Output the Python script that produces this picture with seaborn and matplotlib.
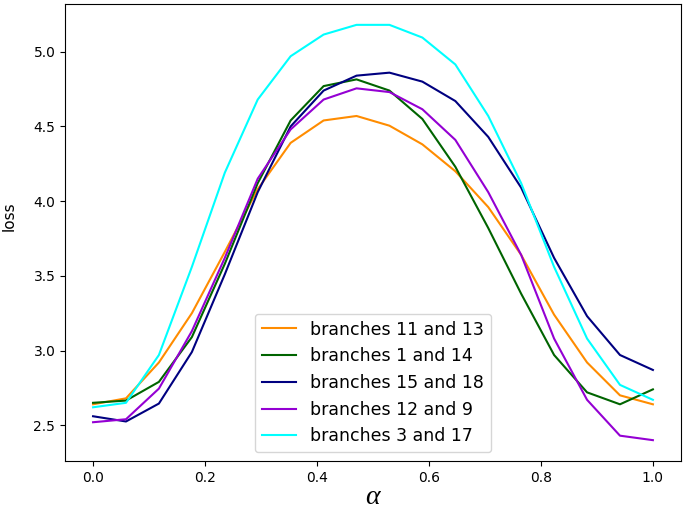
import matplotlib
matplotlib.use("Agg")
import matplotlib.pyplot as plt
import seaborn as sns
import pandas as pd

# ============================================================
# data
# ============================================================

alpha = [0.0, 0.0588, 0.1176, 0.1765, 0.2353, 0.2941, 0.3529, 0.4118, 0.4706,
         0.5294, 0.5882, 0.6471, 0.7059, 0.7647, 0.8235, 0.8824, 0.9412, 1.0]

loss_11_13 = [2.64, 2.68, 2.92, 3.25, 3.66, 4.08, 4.39, 4.54, 4.57,
              4.505, 4.38, 4.20, 3.96, 3.64, 3.24, 2.92, 2.70, 2.64]
loss_1_14 = [2.65, 2.665, 2.79, 3.09, 3.58, 4.12, 4.54, 4.77, 4.815,
             4.74, 4.55, 4.23, 3.82, 3.38, 2.97, 2.72, 2.64, 2.74]
loss_15_18 = [2.56, 2.525, 2.645, 2.99, 3.51, 4.06, 4.50, 4.74, 4.84,
              4.86, 4.80, 4.67, 4.43, 4.09, 3.62, 3.23, 2.97, 2.87]
loss_12_9 = [2.52, 2.54, 2.745, 3.13, 3.62, 4.15, 4.48, 4.68, 4.755,
             4.73, 4.615, 4.41, 4.06, 3.64, 3.08, 2.67, 2.43, 2.40]
loss_3_17 = [2.62, 2.65, 2.97, 3.56, 4.19, 4.68, 4.97, 5.115, 5.18,
             5.18, 5.095, 4.915, 4.57, 4.12, 3.56, 3.08, 2.77, 2.67]

labels = ["branches 11 and 13", "branches 1 and 14", "branches 15 and 18",
          "branches 12 and 9", "branches 3 and 17"]
series = [loss_11_13, loss_1_14, loss_15_18, loss_12_9, loss_3_17]
colors = ["darkorange", "darkgreen", "navy", "darkviolet", "cyan"]

# long table for seaborn
df = pd.concat(
    [pd.DataFrame({"alpha": alpha, "loss": vals, "pair": lab})
     for lab, vals in zip(labels, series)],
    ignore_index=True,
)

# ============================================================
# plot
# ============================================================

fig, ax = plt.subplots(figsize=(6.85, 5.11), dpi=100)
fig.subplots_adjust(left=0.095, right=0.994, top=0.992, bottom=0.098)

sns.lineplot(data=df, x="alpha", y="loss", hue="pair", hue_order=labels,
             palette=dict(zip(labels, colors)), linewidth=1.5, ax=ax)

ax.set_xlabel("α", fontsize=20, family="Liberation Serif", style="italic",
              labelpad=0)
ax.set_ylabel("loss", fontsize=11)
ax.yaxis.set_label_coords(-0.078, 0.535)
ax.legend(loc="lower center", fontsize=12.5, title=None)

fig.savefig("out.png", dpi=100)
